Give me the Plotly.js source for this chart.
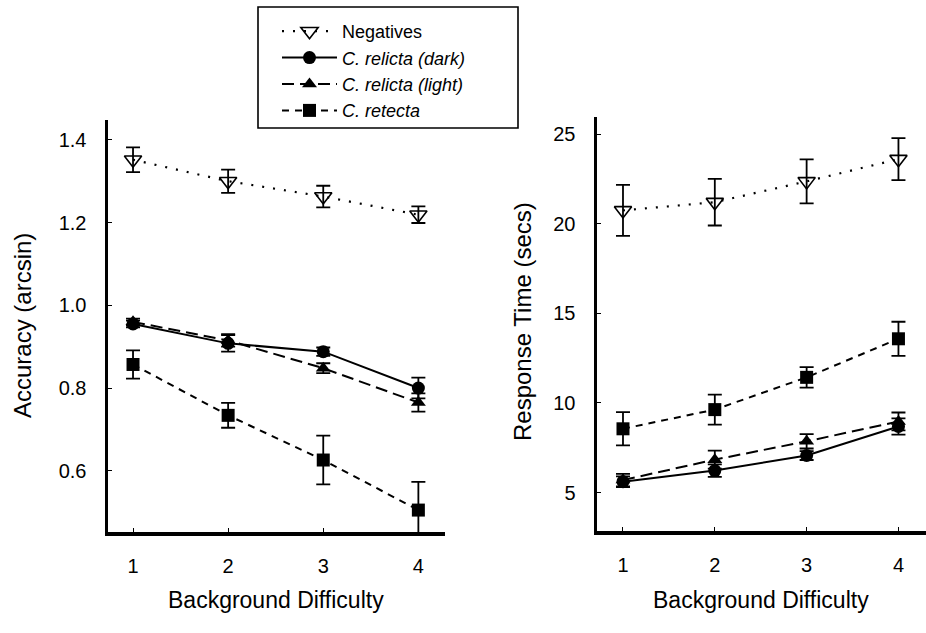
<!DOCTYPE html>
<html>
<head>
<meta charset="utf-8">
<script src="https://cdn.plot.ly/plotly-3.0.1.min.js"></script>
<style>
html,body{margin:0;padding:0;background:#fff;}
#chart{width:926px;height:633px;}
</style>
</head>
<body>
<div id="chart"></div>
<script>
// ---- data ----
const difficulty = [1, 2, 3, 4];
const seriesNames = ['Negatives', '<i>C. relicta (dark)</i>', '<i>C. relicta (light)</i>', '<i>C. retecta</i>'];

const accNeg = [1.352, 1.300, 1.263, 1.219];
const accNegErr = [0.030, 0.028, 0.026, 0.020];
const accDark = [0.955, 0.908, 0.888, 0.800];
const accDarkErr = [0.008, 0.020, 0.010, 0.025];
const accLight = [0.960, 0.915, 0.848, 0.765];
const accLightErr = [0.008, 0.015, 0.012, 0.022];
const accRet = [0.857, 0.734, 0.626, 0.505];
const accRetErr = [0.034, 0.030, 0.059, 0.068];

const rtNeg = [20.74, 21.20, 22.36, 23.60];
const rtNegErr = [1.42, 1.30, 1.23, 1.17];
const rtDark = [5.61, 6.23, 7.07, 8.69];
const rtDarkErr = [0.30, 0.35, 0.25, 0.45];
const rtLight = [5.70, 6.84, 7.86, 8.97];
const rtLightErr = [0.35, 0.50, 0.40, 0.50];
const rtRet = [8.56, 9.63, 11.43, 13.58];
const rtRetErr = [0.93, 0.84, 0.57, 0.95];

const accTicks = [0.6, 0.8, 1.0, 1.2, 1.4];
const rtTicks = [5, 10, 15, 20, 25];

// ---- styles ----
const styles = [
  {marker: {symbol: 'triangle-down-open', size: 15, color: '#000', line: {width: 1.6, color: '#000'}}, line: {color: '#000', width: 2.2, dash: '2px,9px'}},
  {marker: {symbol: 'circle', size: 13, color: '#000'}, line: {color: '#000', width: 2, dash: 'solid'}},
  {marker: {symbol: 'triangle-up', size: 13, color: '#000'}, line: {color: '#000', width: 2, dash: '12px,6px'}},
  {marker: {symbol: 'square', size: 13, color: '#000'}, line: {color: '#000', width: 2, dash: '7px,6px'}}
];

function mk(i, y, err, xa, ya, showleg) {
  return {
    x: difficulty, y: y, type: 'scatter', mode: 'lines+markers',
    name: seriesNames[i],
    showlegend: showleg, legendrank: i + 1,
    xaxis: xa, yaxis: ya,
    marker: styles[i].marker, line: styles[i].line,
    error_y: {type: 'data', array: err, visible: true, color: '#000', thickness: 1.8, width: 7}
  };
}

const data = [
  mk(0, accNeg, accNegErr, 'x', 'y', true),
  mk(1, accDark, accDarkErr, 'x', 'y', true),
  mk(2, accLight, accLightErr, 'x', 'y', true),
  mk(3, accRet, accRetErr, 'x', 'y', true),
  mk(0, rtNeg, rtNegErr, 'x2', 'y2', false),
  mk(1, rtDark, rtDarkErr, 'x2', 'y2', false),
  mk(2, rtLight, rtLightErr, 'x2', 'y2', false),
  mk(3, rtRet, rtRetErr, 'x2', 'y2', false)
];

const W = 926, H = 633;
const font = {family: 'Liberation Sans, Arial, sans-serif', color: '#000'};

const xBase = {
  showline: true, linewidth: 3.5, linecolor: '#000', showgrid: false, zeroline: false,
  ticks: 'inside', ticklen: 4, tickwidth: 1, tickcolor: '#000',
  tickvals: difficulty, ticktext: difficulty.map(String),
  tickfont: {size: 20}, ticklabelstandoff: 13
};
const yBase = {
  showline: true, linewidth: 3.5, linecolor: '#000', showgrid: false, zeroline: false,
  ticks: 'inside', ticklen: 4, tickwidth: 1, tickcolor: '#000',
  tickfont: {size: 20}, ticklabelstandoff: 14
};

const layout = {
  width: W, height: H,
  margin: {l: 0, r: 0, t: 0, b: 0},
  paper_bgcolor: '#fff', plot_bgcolor: '#fff',
  font: font,
  showlegend: true,
  legend: {
    x: 277 / W, y: 1 - 13 / H, xanchor: 'left', yanchor: 'top',
    bgcolor: 'rgba(0,0,0,0)', borderwidth: 0,
    font: {size: 18, family: 'Liberation Sans, Arial, sans-serif', color: '#000'},
    itemwidth: 55, tracegroupgap: 0, traceorder: 'normal'
  },
  xaxis: Object.assign({}, xBase, {domain: [108 / W, 445 / W], range: [0.737, 4.28], anchor: 'y'}),
  yaxis: Object.assign({}, yBase, {domain: [1 - 532 / H, 1 - 120 / H], range: [0.452, 1.448], anchor: 'x',
    tickvals: accTicks, ticktext: accTicks.map(v => v.toFixed(1))}),
  xaxis2: Object.assign({}, xBase, {domain: [597 / W, 1], range: [0.717, 4.3], anchor: 'y2'}),
  yaxis2: Object.assign({}, yBase, {domain: [1 - 531 / H, 1 - 117 / H], range: [2.86, 25.95], anchor: 'x2',
    tickvals: rtTicks, ticktext: rtTicks.map(String)}),
  shapes: [
    {type: 'rect', xref: 'paper', yref: 'paper', x0: 258 / W, x1: 518 / W, y0: 1 - 128 / H, y1: 1 - 7 / H,
     line: {color: '#000', width: 1.6}, fillcolor: 'rgba(0,0,0,0)'}
  ],
  annotations: [
    {text: 'Accuracy (arcsin)', xref: 'paper', yref: 'paper', x: 23 / W, y: 1 - 326 / H, showarrow: false,
     textangle: -90, font: {size: 24}, xanchor: 'center', yanchor: 'middle'},
    {text: 'Response Time (secs)', xref: 'paper', yref: 'paper', x: 522 / W, y: 1 - 322 / H, showarrow: false,
     textangle: -90, font: {size: 24}, xanchor: 'center', yanchor: 'middle'},
    {text: 'Background Difficulty', xref: 'paper', yref: 'paper', x: 276 / W, y: 1 - 600 / H, showarrow: false,
     font: {size: 23}, xanchor: 'center', yanchor: 'middle'},
    {text: 'Background Difficulty', xref: 'paper', yref: 'paper', x: 761 / W, y: 1 - 600 / H, showarrow: false,
     font: {size: 23}, xanchor: 'center', yanchor: 'middle'}
  ]
};

Plotly.newPlot('chart', data, layout, {staticPlot: true, displayModeBar: false});
</script>
</body>
</html>
